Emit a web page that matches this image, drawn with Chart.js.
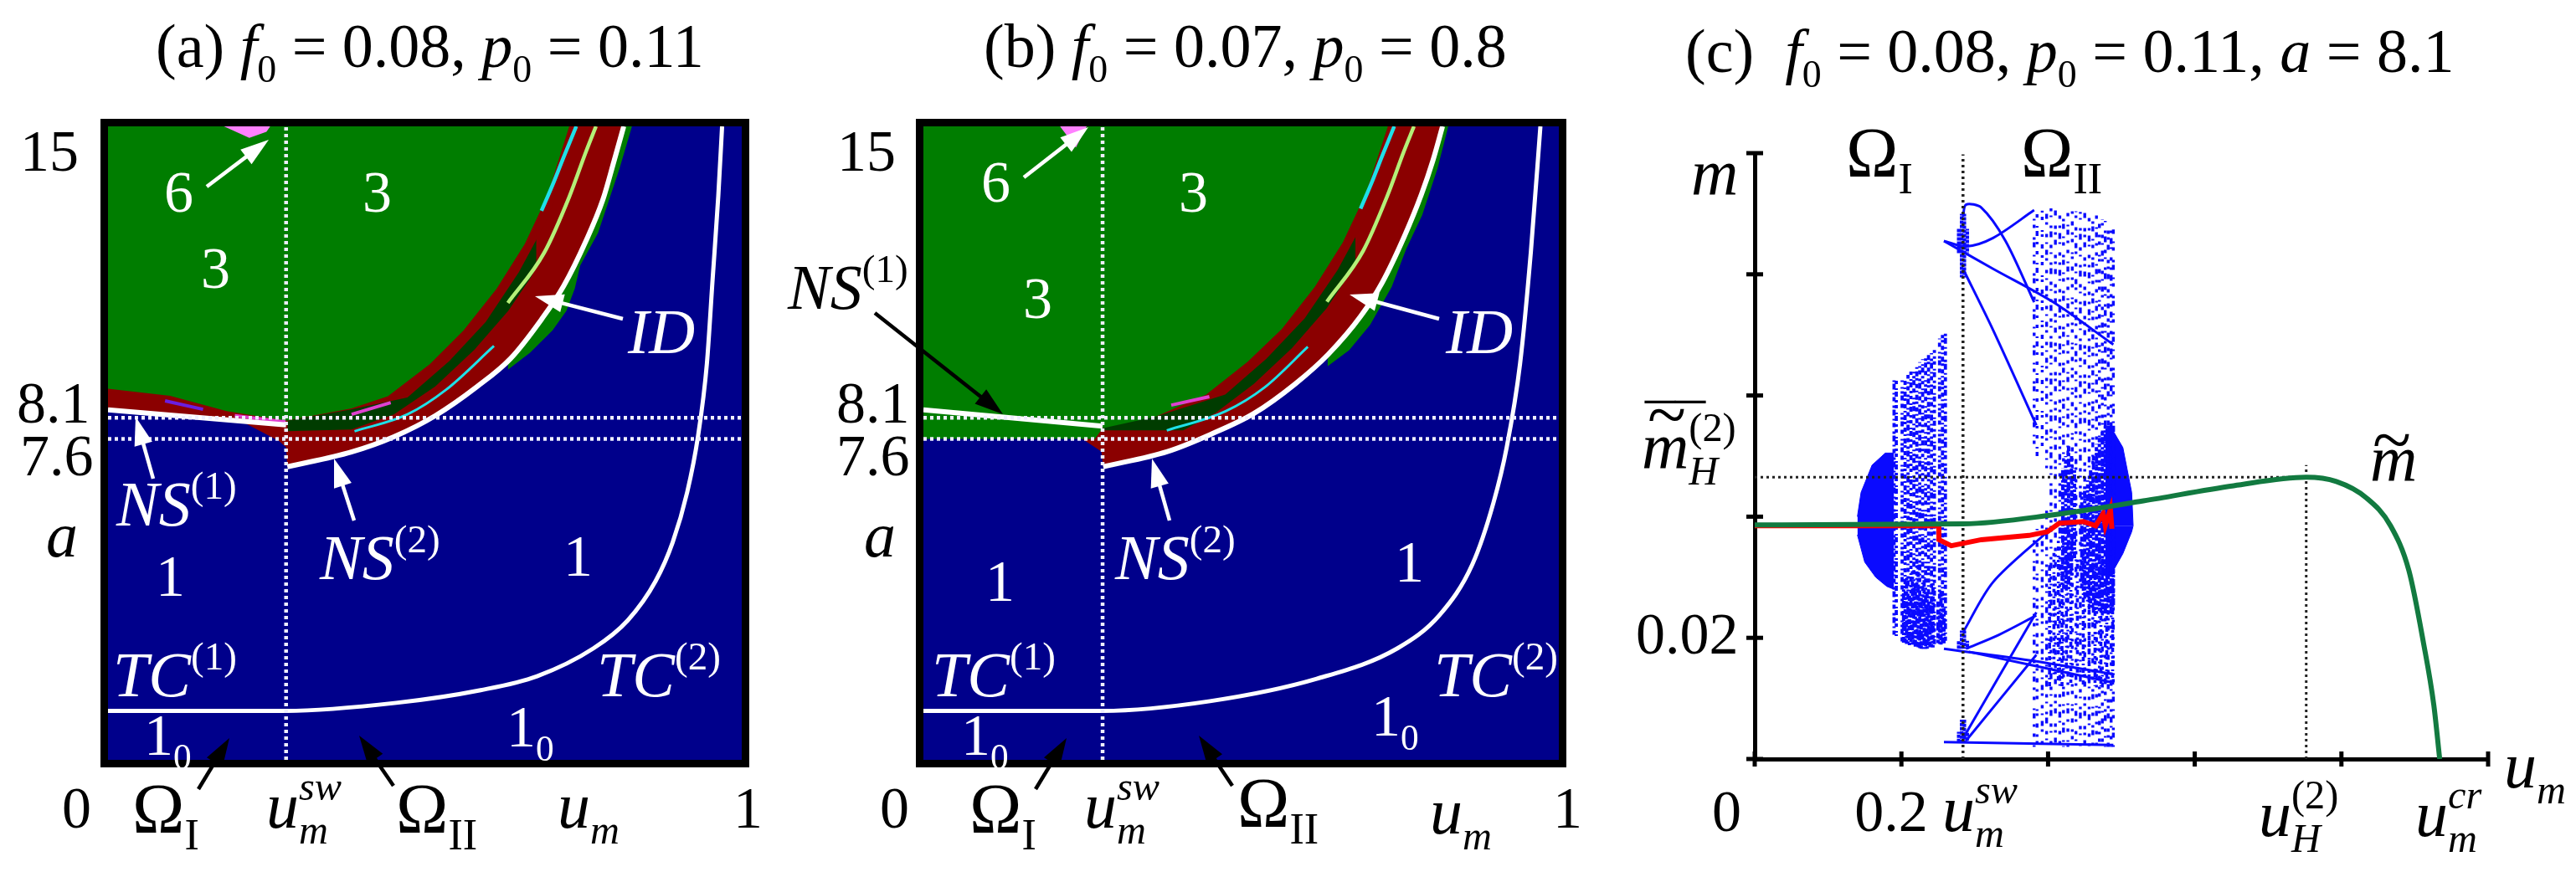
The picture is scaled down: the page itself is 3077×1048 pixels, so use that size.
<!DOCTYPE html>
<html><head><meta charset="utf-8">
<style>html,body{margin:0;padding:0;background:#fff;width:3077px;height:1048px;overflow:hidden}
canvas{position:absolute;left:0;top:0;filter:blur(0.75px)}</style>
<script src="https://cdn.jsdelivr.net/npm/chart.js@4"></script></head><body>
<canvas id="pa" width="3077" height="1048"></canvas>
<canvas id="pb" width="3077" height="1048"></canvas>
<canvas id="pc" width="3077" height="1048"></canvas>
<script>
// ---------- panel (a): series as [u_m, a] ----------
const aOuterGreen=[[.631,9.24],[.666,9.64],[.7015,10.17],[.7233,10.63],[.7366,11.16],[.745,11.7],[.7733,12.48],[.8071,14],[.8268,15]];
const aRed=[[0,8.25],[.205,8.06],[.27,7.55],[.281,7.4],[.283,6.94],[.384,7.29],[.451,7.65],[.5165,8.15],[.5826,8.84],[.635,9.5],[.684,10.43],[.719,11.22],[.754,12.28],[.781,13.27],[.7987,14.19],[.8138,15]];
const aDark=[[.283,7.78],[.384,7.82],[.451,8.18],[.5165,8.84],[.578,9.71],[.6315,10.63],[.667,11.42],[.676,11.68]];
const aInnerRed=[[.283,8.03],[.384,8.3],[.4725,8.58],[.5385,9.44],[.596,10.37],[.6485,11.55],[.684,12.54],[.702,13.14],[.7278,15]];
const aGreen=[[0,8.79],[.098,8.62],[.187,8.26],[.281,8.03],[.3844,8.32],[.4417,8.61],[.5077,9.37],[.5606,10.16],[.613,11.15],[.6575,12.21],[.6927,13.33],[.7278,15]];
const aLime=[[.631,10.82],[.688,12],[.7278,13.33],[.754,14.39],[.77,15]];
const aCyanTop=[[.684,13],[.7012,13.6],[.7187,14.26],[.7389,15]];
const aCyanLow=[[.389,7.78],[.4725,8.18],[.534,8.77],[.609,9.8]];
const aPink=[[.183,15],[.223,14.73],[.25,14.87],[.256,15]];
const aViolet=[[.09,8.5],[.15,8.3]];
const aMagenta=[[.2,8.15],[.28,8.0]];
const aMagenta2=[[.3844,8.18],[.4461,8.46]];
const aNS1=[[0,8.29],[.281,7.93]];
const aNS2=[[.283,6.94],[.384,7.29],[.451,7.65],[.5165,8.15],[.5826,8.84],[.635,9.5],[.684,10.43],[.719,11.22],[.754,12.28],[.781,13.27],[.7987,14.19],[.8138,15]];
const aTC=[[0,1.16],[.281,1.16],[.455,1.35],[.588,1.65],[.677,1.98],[.766,2.64],[.82,3.3],[.864,4.23],[.891,5.15],[.914,6.34],[.931,7.66],[.945,9.38],[.954,11.37],[.963,13.35],[.969,15]];
const aSwitch=.281;
// ---------- panel (b) ----------
const bOuterGreen=[[.636,9.32],[.67,9.7],[.703,10.3],[.737,11.2],[.76,12.1],[.785,12.9],[.809,14],[.826,15]];
const bRed=[[.25,7.6],[.28,7.3],[.283,6.94],[.384,7.3],[.451,7.7],[.52,8.2],[.585,8.9],[.637,9.6],[.688,10.5],[.722,11.3],[.757,12.4],[.784,13.4],[.802,14.2],[.817,15]];
const bDark=[[.283,7.8],[.409,7.8],[.46,8.22],[.52,8.9],[.58,9.75],[.635,10.7],[.67,11.5],[.68,11.75]];
const bInnerRed=[[.283,7.95],[.366,8.13],[.475,8.65],[.54,9.5],[.6,10.45],[.652,11.6],[.688,12.6],[.706,13.2],[.732,15]];
const bGreen=[[0,7.6],[.27,7.6],[.282,7.85],[.366,8.13],[.445,8.65],[.51,9.42],[.564,10.2],[.616,11.2],[.66,12.25],[.696,13.4],[.731,15]];
const bLime=[[.635,10.85],[.692,12.05],[.73,13.35],[.756,14.4],[.772,15]];
const bCyanTop=[[.688,13.05],[.705,13.65],[.722,14.3],[.741,15]];
const bCyanLow=[[.383,7.8],[.475,8.25],[.537,8.82],[.605,9.78]];
const bPink=[[.215,15],[.24,14.5],[.257,15]];
const bMagenta=[[.39,8.4],[.45,8.6]];
const bNS1=[[0,8.29],[.282,7.9]];
const bNS2=[[.283,6.94],[.384,7.3],[.451,7.7],[.52,8.2],[.585,8.9],[.637,9.6],[.688,10.5],[.722,11.3],[.757,12.4],[.784,13.4],[.802,14.2],[.817,15]];
const bTC=[[0,1.16],[.282,1.16],[.451,1.39],[.619,1.92],[.746,2.64],[.813,3.44],[.864,4.63],[.897,6.08],[.918,7.4],[.939,9.38],[.956,12.03],[.971,15]];
const bSwitch=.282;
const aDotted=[8.1,7.6];
// ---------- panel (c): series as [u_m, m] ----------
const cTilde=[[0,.03865],[.284,.0388],[.407,.0403],[.53,.0426],[.653,.0451],[.752,.0465],[.793,.0458],[.834,.0431],[.867,.0385],[.892,.0311],[.912,.0191],[.926,.0089],[.934,0]];
const cRed=[[0,.0385],[.251,.0385],[.2512,.0362],[.268,.0352],[.309,.0362],[.374,.0369],[.399,.0375],[.415,.0389],[.448,.0392],[.465,.0385],[.475,.0405],[.478,.0385],[.485,.0412],[.487,.038]];
const cSwitch=.284, cSwitchTop=.0998, cHopfX=.752, cHopfTop=.0485, cHopfM=.0465;
const c1BlobUp=[[.14,.04],[.145,.044],[.16,.0485],[.178,.0505],[.19,.0505]];
const c1BlobLow=[[.14,.037],[.15,.0325],[.165,.03],[.18,.0285],[.19,.028]];
const c1X=[.19,.193,.201,.205,.209,.213,.217,.221,.225,.229,.233,.237,.241,.245,.252,.256,.26];
const c1Low=[.0205,.0203,.0194,.0192,.019,.0188,.0186,.0184,.0183,.0182,.0182,.0182,.0183,.0184,.0187,.0189,.0191];
const c1High=[.0625,.0625,.0625,.0628,.0634,.064,.0645,.065,.0655,.066,.0665,.0669,.067,.0675,.0694,.07,.0708];
const c1DenseX=[.203,.207,.211,.215,.219,.223,.227,.231,.235,.239,.243,.25,.254,.258];
const c1DenseLow=[.0192,.019,.0188,.0186,.0184,.0183,.0182,.0182,.0182,.0183,.0184,.0187,.0189,.0191];
const c1DenseHigh=[.028,.03,.027,.031,.029,.032,.027,.03,.028,.026,.029,.026,.028,.025];
const c2X=[.381,.385,.392,.398,.404,.41,.416,.421,.427,.433,.438,.444,.45,.456,.461,.466,.47,.474,.478,.482,.486,.489,.381,.385,.392,.398];
const c2Low=[.052,.05,.05,.048,.002,.002,.002,.002,.002,.002,.002,.002,.002,.002,.002,.002,.002,.002,.002,.002,.002,.002,.002,.002,.002,.002];
const c2High=[.0897,.09,.0905,.0909,.0909,.0908,.0907,.0906,.0905,.0905,.0904,.0903,.0902,.0901,.0899,.0897,.0894,.0891,.0888,.0884,.0879,.0874,.037,.038,.039,.041];
const c2DenseX=[.42,.424,.428,.432,.436,.446,.45,.454,.458,.462,.466,.47,.474,.478,.482,.486,.489];
const c2DenseLow=[.03,.028,.028,.03,.033,.028,.027,.026,.025,.024,.024,.024,.024,.024,.024,.024,.025];
const c2DenseHigh=[.048,.05,.052,.05,.048,.044,.045,.046,.048,.05,.052,.053,.054,.055,.055,.055,.055];
const c2LowerX=[.402,.408,.414,.419,.425,.431,.44,.448,.456,.464,.472,.48,.488];
const c2LowerLow=[.012,.014,.013,.012,.014,.012,.014,.012,.013,.012,.012,.012,.012];
const c2LowerHigh=[.032,.034,.036,.033,.036,.035,.033,.034,.03,.033,.032,.034,.035];
const c2BlobUp=[[.478,.0545],[.489,.0541],[.502,.0514],[.514,.044],[.516,.0385]];
const c2BlobLow=[[.478,.029],[.489,.0311],[.502,.0339],[.514,.0375],[.516,.0385]];
const cClusterX=[.278,.282,.286,.29];
const cTopLow=[.0835,.0795,.0795,.0835], cTopHigh=[.0875,.09,.09,.0875];
const cMidLow=[.0182,.0182,.0182,.0182], cMidHigh=[.0195,.0212,.0212,.0195];
const cBotLow=[.0028,.0028,.0028,.0028], cBotHigh=[.0045,.0065,.0065,.0045];
const cBranches=[
 [[.284,.0895],[.288,.0915],[.309,.091],[.342,.0855],[.381,.0754]],
 [[.258,.0855],[.288,.0846],[.325,.086],[.381,.0906]],
 [[.258,.0855],[.325,.0809],[.407,.0754],[.489,.0684]],
 [[.284,.0809],[.325,.0708],[.384,.0551]],
 [[.258,.0182],[.374,.0163],[.489,.014]],
 [[.292,.0177],[.489,.0126]],
 [[.258,.0028],[.489,.0023]],
 [[.284,.0209],[.325,.0292],[.399,.0375]],
 [[.288,.0182],[.333,.0205],[.384,.0237]],
 [[.284,.0034],[.384,.0242]],
 [[.288,.003],[.384,.0172]]];
// ---------- ticks ----------
const abXTicks=[0,1], abXLabels=['0','1'];
const abYTicks=[15,8.1,7.6], abYLabels=['15','8.1','7.6'];
const cXTicks=[0,.2,.4,.6,.8,1], cXLabels=['0','0.2','','','',''];
const cYTicks=[0,.02,.04,.06,.08,.1], cYLabels=['','0.02','','','',''];
// ---------- texts ----------
const textA=[
 ['(a) *f*_{0} = 0.08, *p*_{0} = 0.11',186,80,74,'#000'],
 ['*a*',55,665,76,'#000'],['Ω_{I}',158,995,84,'#000'],['*u*_{*m*}^{*sw*}',318,989,78,'#000'],['Ω_{II}',473,995,84,'#000'],['*u*_{*m*}',666,989,78,'#000'],
 ['6',196,253,70,'#fff'],['3',240,344,70,'#fff'],['3',433,253,70,'#fff'],['*ID*',750,422,76,'#fff'],
 ['*NS*^{(1)}',139,628,76,'#fff'],['*NS*^{(2)}',382,692,76,'#fff'],['1',186,712,70,'#fff'],['1',673,688,70,'#fff'],
 ['*TC*^{(1)}',135,832,76,'#fff'],['*TC*^{(2)}',713,832,76,'#fff'],['1_{0}',172,902,70,'#fff'],['1_{0}',605,892,70,'#fff']];
const textB=[
 ['(b) *f*_{0} = 0.07, *p*_{0} = 0.8',1175,80,74,'#000'],
 ['*NS*^{(1)}',941,369,76,'#000'],['*a*',1032,665,76,'#000'],['Ω_{I}',1158,995,84,'#000'],['*u*_{*m*}^{*sw*}',1295,989,78,'#000'],['Ω_{II}',1478,988,84,'#000'],['*u*_{*m*}',1708,996,78,'#000'],
 ['6',1172,241,70,'#fff'],['3',1222,380,70,'#fff'],['3',1408,253,70,'#fff'],['*ID*',1727,422,76,'#fff'],
 ['*NS*^{(2)}',1332,692,76,'#fff'],['1',1177,718,70,'#fff'],['1',1666,695,70,'#fff'],
 ['*TC*^{(1)}',1113,832,76,'#fff'],['*TC*^{(2)}',1713,832,76,'#fff'],['1_{0}',1148,902,70,'#fff'],['1_{0}',1638,879,70,'#fff']];
const textC=[
 ['(c)  *f*_{0} = 0.08, *p*_{0} = 0.11, *a* = 8.1',2013,86,74,'#000'],
 ['Ω_{I}',2205,211,84,'#000'],['Ω_{II}',2414,211,84,'#000'],['*m*',2020,233,78,'#000'],
 ['*m*_{*H*}^{(2)}',1961,560,78,'#000'],['~',1968,524,85,'#000'],['¯¯',1965,533,72,'#000'],
 ['*u*_{*m*}^{*sw*}',2320,993,78,'#000'],['*u*_{*H*}^{(2)}',2698,999,78,'#000'],['*u*_{*m*}^{*cr*}',2885,999,78,'#000'],['*u*_{*m*}',2991,941,78,'#000'],
 ['*m*',2831,575,78,'#000'],['~',2834,554,85,'#000']];
const arrowsA=[[247,223,321,167,'#fff'],[744,381,639,354,'#fff'],[183,572,162,498,'#fff'],[423,622,399,548,'#fff'],[237,943,274,882,'#000'],[470,939,429,879,'#000']];
const arrowsB=[[1223,212,1300,152,'#fff'],[1719,381,1612,352,'#fff'],[1045,374,1198,495,'#000'],[1397,622,1376,548,'#fff'],[1237,943,1274,882,'#000'],[1472,939,1432,879,'#000']];
// per-tick label offsets from the tick position (style, not data)
const abXOff={0:-55,1:-10}, bXOff={0:-52,1:-7};
const aYOff={15:[-105,53],8.1:[-109,6],7.6:[-105,44]};
const bYOff={15:[-103,53],8.1:[-104,6],7.6:[-104,44]};

const FONT='"Liberation Serif"';
const NAVY='#00008b',GREEN='#007d00',DRED='#8b0000',DARK='#003c00',LIME='#b4f078',CYAN='#1ee0e8',PINK='#ff80ff',BLUE='#0a0aff';

function runs(ctx,s,x,y,size,color){
  const re=/\*([^*]+)\*|_\{((?:[^{}])*)\}|\^\{((?:[^{}])*)\}|([^*_^]+)/g;let m,prev=null,start=x;
  while((m=re.exec(s))){
    if(m[1]!==undefined||m[4]!==undefined){
      const it=m[1]!==undefined;ctx.font=(it?'italic ':'')+size+'px '+FONT;ctx.fillStyle=color;
      const t=it?m[1]:m[4];ctx.fillText(t,x,y);x+=ctx.measureText(t).width;prev=null;
    }else{
      const sub=m[2]!==undefined,body=sub?m[2]:m[3];
      const sx=prev?start:x;
      const nx=runs(ctx,body,sx,y+(sub?size*.24:-size*.42),size*.62,color);
      if(prev){x=Math.max(x,nx);prev=null;}else{start=x;x=nx;prev=sub?'s':'p';}
    }
  }
  return x;
}
const P=a=>a.map(p=>({x:p[0],y:p[1]}));
const area=(d,c)=>({data:P(d),showLine:true,fill:'end',backgroundColor:c,borderColor:c,borderWidth:0,pointRadius:0});
const toVal=(d,c,v)=>({data:P(d),showLine:true,fill:{target:{value:v}},backgroundColor:c,borderColor:c,borderWidth:1,pointRadius:0});
const ln=(d,c,w,extra)=>Object.assign({data:P(d),showLine:true,fill:false,borderColor:c,borderWidth:w,pointRadius:0,borderCapStyle:'butt'},extra||{});
const smooth={cubicInterpolationMode:'monotone'};
const DOT={borderDash:[4,4]};
const dashes=[[4,5,2,9,6,3,3,11],[3,7,6,4,2,10,4,8],[5,9,3,3,2,12,4,5,3,8],[2,6,4,11,3,4,6,7],[7,4,3,10,2,5,4,9],[3,4,4,12,6,6],[4,10,2,4,7,6,3,8]];
const midDash=[[5,3,2,4,7,2,3,5],[3,4,6,2,2,5,4,3],[6,2,3,3,2,6,5,4],[2,3,5,4,3,2,6,3]];
const denseDash=[[7,2,3,3,9,2],[5,3,8,2,3,2],[10,3,4,2,6,3]];
function columns(xs,lo,hi,w,sets,c){
  return xs.map((x,i)=>ln([[x,lo[i]],[x,hi[i]]],c,w,{borderDash:sets[i%sets.length],borderDashOffset:(i*11)%37}));
}
function textPlugin(texts,arrows,xOff,yOff,dyX){return {id:'txt',afterDraw(ch){
  const c=ch.ctx;c.save();c.textBaseline='alphabetic';c.textAlign='left';
  (arrows||[]).forEach(a=>{const [x0,y0,x1,y1,col]=a,t=Math.atan2(y1-y0,x1-x0),L=34,W=11;
    c.strokeStyle=col;c.fillStyle=col;c.lineWidth=4.5;c.beginPath();c.moveTo(x0,y0);c.lineTo(x1-L*.7*Math.cos(t),y1-L*.7*Math.sin(t));c.stroke();
    c.beginPath();c.moveTo(x1,y1);c.lineTo(x1-L*Math.cos(t)-W*Math.sin(t),y1-L*Math.sin(t)+W*Math.cos(t));c.lineTo(x1-L*Math.cos(t)+W*Math.sin(t),y1-L*Math.sin(t)-W*Math.cos(t));c.closePath();c.fill();});
  const X=ch.scales.x,Y=ch.scales.y;
  X.ticks.forEach((t,i)=>{const l=ch.options.scales.x.tickText[i];if(l)runs(c,l,X.getPixelForValue(t.value)+xOff[t.value],ch.chartArea.bottom+dyX,70,'#000');});
  Y.ticks.forEach((t,i)=>{const l=ch.options.scales.y.tickText[i];if(l){const o=yOff[t.value];runs(c,l,ch.chartArea.left+o[0],Y.getPixelForValue(t.value)+o[1],70,'#000');}});
  texts.forEach(t=>runs(c,t[0],t[1],t[2],t[3],t[4]));
  c.restore();}};}
const navyFrame={id:'navy',beforeDatasetsDraw(ch){const a=ch.chartArea,c=ch.ctx;c.save();c.fillStyle=NAVY;c.fillRect(a.left,a.top,a.width,a.height);c.restore();},
 afterDatasetsDraw(ch){const a=ch.chartArea,c=ch.ctx;c.save();c.strokeStyle='#000';c.lineWidth=9;c.strokeRect(a.left-4.5,a.top-4.5,a.width+9,a.height+9);c.restore();}};
function make(id,ds,cfg,plugins){
  ds.forEach((d,i)=>{d.order=ds.length-i;});
  const sc=(vals,labels,min,max,extra)=>Object.assign({type:'linear',min,max,tickText:labels,
    afterBuildTicks(s){s.ticks=vals.map(v=>({value:v}));},
    afterFit(s){if(s.isHorizontal())s.height=0;else s.width=0;},
    ticks:{display:false},grid:{display:false},border:{display:false}},extra||{});
  return new Chart(document.getElementById(id),{type:'scatter',data:{datasets:ds},plugins,
   options:{responsive:false,animation:false,devicePixelRatio:1,layout:{padding:cfg.pad},
    plugins:{legend:{display:false},tooltip:{enabled:false},title:{display:false}},
    scales:{x:sc(cfg.xt,cfg.xl,0,1,cfg.xx),y:sc(cfg.yt,cfg.yl,0,cfg.ymax,cfg.yx)}}});
}
function mapPanel(o,sw){
  const ds=[area(o.outer,GREEN),area(o.red,DRED),area(o.dark,DARK),area(o.inner,DRED),area(o.green,GREEN),area(o.pink,PINK),
    ln(o.lime,LIME,4.5,smooth),ln(o.cyanTop,CYAN,4.5,smooth),ln(o.cyanLow,CYAN,3,smooth)];
  o.extra.forEach(e=>ds.push(ln(e[0],e[1],4)));
  ds.push(ln(o.ns1,'#fff',6));ds.push(ln(o.ns2,'#fff',6,smooth));ds.push(ln(o.tc,'#fff',5,smooth));
  ds.push(ln([[sw,0],[sw,15]],'#eef',4.5,DOT));
  aDotted.forEach(v=>ds.push(ln([[0,v],[1,v]],'#eef',4.5,DOT)));
  return ds;
}
make('pa',mapPanel({outer:aOuterGreen,red:aRed,dark:aDark,inner:aInnerRed,green:aGreen,pink:aPink,lime:aLime,cyanTop:aCyanTop,cyanLow:aCyanLow,ns1:aNS1,ns2:aNS2,tc:aTC,extra:[[aViolet,'#6a1ee0'],[aMagenta,'#e040d0'],[aMagenta2,'#e040d0']]},aSwitch),
 {pad:{left:129,top:151,right:3077-886,bottom:1048-908},xt:abXTicks,xl:abXLabels,yt:abYTicks,yl:abYLabels,ymax:15},[navyFrame,textPlugin(textA,arrowsA,abXOff,aYOff,81)]);
make('pb',mapPanel({outer:bOuterGreen,red:bRed,dark:bDark,inner:bInnerRed,green:bGreen,pink:bPink,lime:bLime,cyanTop:bCyanTop,cyanLow:bCyanLow,ns1:bNS1,ns2:bNS2,tc:bTC,extra:[[bMagenta,'#e040d0']]},bSwitch),
 {pad:{left:1103,top:151,right:3077-1862,bottom:1048-908},xt:abXTicks,xl:abXLabels,yt:abYTicks,yl:abYLabels,ymax:15},[navyFrame,textPlugin(textB,arrowsB,bXOff,bYOff,81)]);
// panel c
const cDs=[];
cDs.push(toVal(c1BlobUp,BLUE,.0385),toVal(c1BlobLow,BLUE,.0385),toVal(c2BlobUp,BLUE,.0385),toVal(c2BlobLow,BLUE,.0385));
cDs.push(...columns(c1X,c1Low,c1High,3.8,midDash,BLUE));
cDs.push(...columns(c1DenseX,c1DenseLow,c1DenseHigh,4,denseDash,BLUE));
cDs.push(...columns(c2X,c2Low,c2High,3.4,dashes,BLUE));
cDs.push(...columns(c2LowerX,c2LowerLow,c2LowerHigh,3.6,midDash,BLUE));
cDs.push(...columns(c2DenseX,c2DenseLow,c2DenseHigh,4,denseDash,BLUE));
cDs.push(...columns(cClusterX,cTopLow,cTopHigh,4,[[4,1]],BLUE));
cDs.push(...columns(cClusterX,cMidLow,cMidHigh,4,[[4,1]],BLUE));
cDs.push(...columns(cClusterX,cBotLow,cBotHigh,4,[[4,1]],BLUE));
cBranches.forEach(b=>cDs.push(ln(b,BLUE,3,{tension:.3})));
cDs.push(ln([[cSwitch,0],[cSwitch,cSwitchTop]],'#222',3.5,{borderDash:[3,4]}));
cDs.push(ln([[0,cHopfM],[cHopfX,cHopfM]],'#222',3,{borderDash:[3,4]}));
cDs.push(ln([[cHopfX,0],[cHopfX,cHopfTop]],'#222',3,{borderDash:[3,4]}));
cDs.push(ln(cRed,'#f00',6));
cDs.push(ln(cTilde,'#127a40',6,smooth));
cDs.push({data:cXTicks.map(v=>({x:v,y:0})),pointStyle:'line',rotation:90,pointRadius:9,borderColor:'#000',pointBorderWidth:5,showLine:false,clip:false});
cDs.push({data:cYTicks.map(v=>({x:0,y:v})),pointStyle:'line',rotation:0,pointRadius:10,borderColor:'#000',pointBorderWidth:5,showLine:false,clip:false});
const cAxisX={border:{display:true,color:'#000',width:5},grid:{display:false}};
make('pc',cDs,{pad:{left:2096,top:183,right:3077-2972,bottom:1048-907},xt:cXTicks,xl:cXLabels,yt:cYTicks,yl:cYLabels,ymax:.1,xx:cAxisX,yx:cAxisX},
 [textPlugin(textC,[],{0:-51,.2:-56},{.02:[-142,19]},86)]);
</script></body></html>
